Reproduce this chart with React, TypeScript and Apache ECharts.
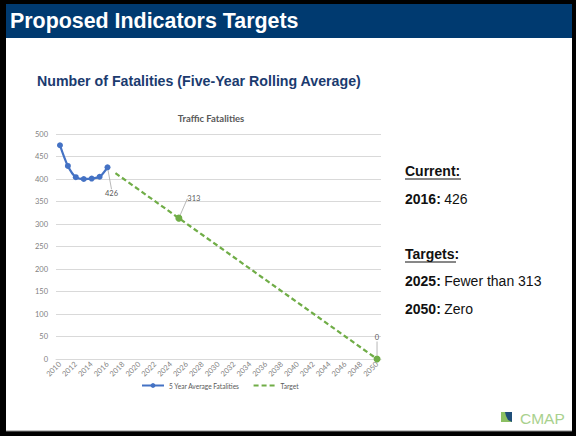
import React, { useEffect, useRef } from "react";
import * as echarts from "echarts";

const years: string[] = [];
for (let y = 2010; y <= 2050; y++) years.push(String(y));

// 5 Year Average Fatalities, 2010..2016
const fatalities: (number | null)[] = [475, 429, 404, 400, 401, 405, 426];
// Target points: year -> value
const targetPoints: { year: string; value: number; marker: boolean; label: boolean }[] = [
  { year: "2017", value: 413, marker: false, label: false },
  { year: "2025", value: 313, marker: true, label: true },
  { year: "2050", value: 0, marker: true, label: true },
];

const chartTitle = "Traffic Fatalities";
const pageTitle = "Proposed Indicators Targets";
const subTitle = "Number of Fatalities (Five-Year Rolling Average)";
const seriesNames = ["5 Year Average Fatalities", "Target"];

const NAVY = "#003a70";
const GRAY_TEXT = "#595959";
const AXIS_TEXT = "#7f7f7f";
const BLUE = "#4472c4";
const GREEN = "#70ad47";
const FONT = "Liberation Sans, Arial, sans-serif";
const CHART_FONT = "Lato, Open Sans, sans-serif";

export default function App() {
  const ref = useRef<HTMLDivElement>(null);
  useEffect(() => {
    if (!ref.current) return;
    const chart = echarts.init(ref.current, undefined, { renderer: "svg" });

    const blueData = years.map((y, i) => {
      const v = i < fatalities.length ? fatalities[i] : null;
      if (v == null) return null;
      if (i === fatalities.length - 1) {
        return { value: v, label: { show: true } };
      }
      return v;
    });

    const greenData = years.map((y) => {
      const p = targetPoints.find((t) => t.year === y);
      if (!p) return null;
      return {
        value: p.value,
        symbol: p.marker ? "circle" : "none",
        symbolSize: 7,
        label: { show: p.label },
      };
    });

    const textStyleRight = { fontFamily: FONT, fontSize: 14, fill: "#111" };

    chart.setOption({
      animation: false,
      backgroundColor: "#fff",
      grid: { left: 56, right: 195, top: 134, bottom: 77, containLabel: false },
      xAxis: {
        type: "category",
        data: years,
        boundaryGap: true,
        axisLine: { show: true, lineStyle: { color: "#d9d9d9", width: 1 } },
        axisTick: { show: false },
        axisLabel: {
          interval: 1,
          rotate: 45,
          fontSize: 7.5,
          color: AXIS_TEXT,
          fontFamily: CHART_FONT,
          margin: 4,
        },
      },
      yAxis: {
        type: "value",
        min: 0,
        max: 500,
        interval: 50,
        axisLine: { show: false },
        axisTick: { show: false },
        axisLabel: { fontSize: 7.5, color: AXIS_TEXT, fontFamily: CHART_FONT, margin: 8 },
        splitLine: { lineStyle: { color: "#d9d9d9", width: 1 } },
      },
      legend: {
        left: 136,
        top: 377,
        itemWidth: 22,
        itemHeight: 6,
        itemGap: 13,
        textStyle: { fontSize: 6.6, color: GRAY_TEXT, fontFamily: CHART_FONT },
        data: [
          { name: seriesNames[0] },
          { name: seriesNames[1], itemStyle: { opacity: 0 } },
        ],
      },
      series: [
        {
          name: seriesNames[0],
          type: "line",
          data: blueData,
          smooth: 0.3,
          symbol: "circle",
          symbolSize: 6,
          showAllSymbol: true,
          color: BLUE,
          lineStyle: { width: 2.25, color: BLUE },
          label: {
            show: false,
            position: "bottom",
            fontSize: 7.5,
            color: GRAY_TEXT,
            fontFamily: CHART_FONT,
          },
          labelLayout: { dx: 4, dy: 14 },
          labelLine: { show: true, lineStyle: { color: "#a6a6a6", width: 0.8 } },
        },
        {
          name: seriesNames[1],
          type: "line",
          data: greenData,
          connectNulls: true,
          symbol: "none",
          showAllSymbol: true,
          color: GREEN,
          lineStyle: { width: 2.25, color: GREEN, type: [5, 3] },
          label: {
            show: false,
            position: "top",
            fontSize: 7.5,
            color: GRAY_TEXT,
            fontFamily: CHART_FONT,
          },
          labelLayout: (p: any) =>
            p.dataIndex === 15 ? { dx: 15, dy: -7 } : { dx: 0, dy: -9 },
          labelLine: { show: true, lineStyle: { color: "#a6a6a6", width: 0.8 } },
        },
      ],
      graphic: [
        // frame
        { type: "rect", shape: { x: 0, y: 0, width: 576, height: 436 }, style: { fill: "#000" }, z: -10 },
        { type: "rect", shape: { x: 6, y: 4, width: 566, height: 427 }, style: { fill: "#fff" }, z: -9 },
        { type: "line", shape: { x1: 6, y1: 431, x2: 572, y2: 431 }, style: { stroke: "#888", lineWidth: 1 }, z: -8 },
        // title bar
        { type: "rect", shape: { x: 6, y: 4, width: 566, height: 34 }, style: { fill: NAVY } },
        {
          type: "text",
          x: 10,
          y: 21,
          style: { text: pageTitle, fill: "#fff", fontFamily: FONT, fontWeight: "bold", fontSize: 21.4, textVerticalAlign: "middle" },
        },
        {
          type: "text",
          x: 37,
          y: 81,
          style: { text: subTitle, fill: "#1b3b6f", fontFamily: FONT, fontWeight: "bold", fontSize: 14.2, textVerticalAlign: "middle" },
        },
        {
          type: "text",
          x: 211,
          y: 118,
          style: { text: chartTitle, fill: GRAY_TEXT, fontFamily: CHART_FONT, fontWeight: "bold", fontSize: 9.5, textAlign: "center", textVerticalAlign: "middle" },
        },
        // right text
        {
          type: "text",
          x: 405,
          y: 171,
          style: { ...textStyleRight, text: "Current:", fontWeight: "bold", textVerticalAlign: "middle" },
        },
        { type: "line", shape: { x1: 405, y1: 179, x2: 461, y2: 179 }, style: { stroke: "#111", lineWidth: 1 } },
        {
          type: "text",
          x: 405,
          y: 199,
          style: {
            text: "{b|2016:} {r|426}",
            textVerticalAlign: "middle",
            rich: {
              b: { ...textStyleRight, fontWeight: "bold" },
              r: { ...textStyleRight },
            },
          },
        },
        {
          type: "text",
          x: 405,
          y: 254,
          style: { ...textStyleRight, text: "Targets:", fontWeight: "bold", textVerticalAlign: "middle" },
        },
        { type: "line", shape: { x1: 405, y1: 262, x2: 456, y2: 262 }, style: { stroke: "#111", lineWidth: 1 } },
        {
          type: "text",
          x: 405,
          y: 281,
          style: {
            text: "{b|2025:} {r|Fewer than 313}",
            textVerticalAlign: "middle",
            rich: {
              b: { ...textStyleRight, fontWeight: "bold" },
              r: { ...textStyleRight },
            },
          },
        },
        {
          type: "text",
          x: 405,
          y: 309,
          style: {
            text: "{b|2050:} {r|Zero}",
            textVerticalAlign: "middle",
            rich: {
              b: { ...textStyleRight, fontWeight: "bold" },
              r: { ...textStyleRight },
            },
          },
        },
        // CMAP logo
        { type: "rect", shape: { x: 501, y: 412, width: 11, height: 10 }, style: { fill: "#8cc063" } },
        {
          type: "polygon",
          shape: { points: [[505, 412], [512, 412], [512, 422], [508, 420], [506, 416]] },
          style: { fill: "#1f4e79" },
        },
        {
          type: "text",
          x: 520,
          y: 418,
          style: { text: "CMAP", fill: "#a9d18e", fontFamily: "Liberation Sans, Arial, sans-serif", fontSize: 15.5, textVerticalAlign: "middle" },
        },
      ],
    });
    return () => chart.dispose();
  }, []);
  return (
    <div style={{ position: "fixed", left: 0, top: 0, width: 576, height: 436 }}>
      <div ref={ref} style={{ width: 576, height: 436 }} />
    </div>
  );
}
